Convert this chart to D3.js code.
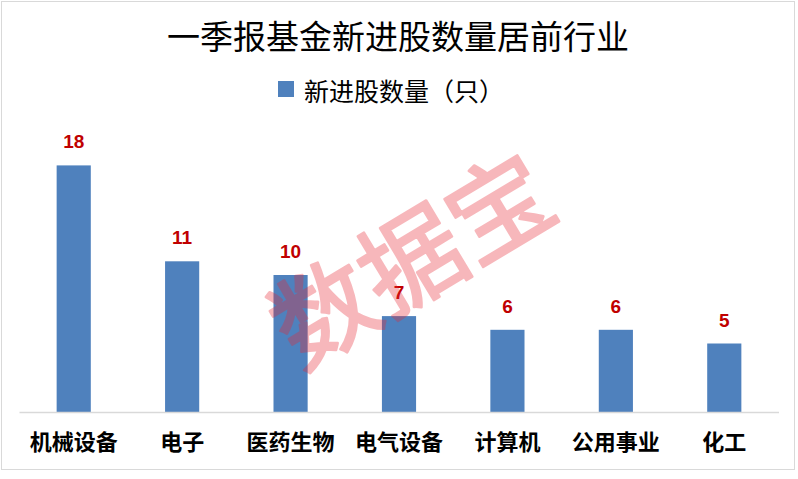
<!DOCTYPE html>
<html>
<head>
<meta charset="utf-8">
<script src="https://cdn.jsdelivr.net/npm/d3@7"></script>
<style>
  html, body { margin: 0; padding: 0; background: #fff; }
  svg { display: block; }
</style>
</head>
<body>
<script>
const title = "一季报基金新进股数量居前行业";
const seriesName = "新进股数量（只）";
const categories = ["机械设备", "电子", "医药生物", "电气设备", "计算机", "公用事业", "化工"];
const values = [18, 11, 10, 7, 6, 6, 5];
const yDomain = [0, 20];
const watermark = "数据宝";

const W = 798, H = 479;
const svg = d3.select("body").append("svg").attr("width", W).attr("height", H);

svg.append("rect").attr("x", 0).attr("y", 0).attr("width", W).attr("height", H).attr("fill", "#fff");
svg.append("rect").attr("x", 1.5).attr("y", 1.5).attr("width", 793).attr("height", 468)
  .attr("fill", "none").attr("stroke", "#D9D9D9").attr("stroke-width", 1);

const cjk = "'Noto Sans CJK SC', 'Noto Sans CJK JP', sans-serif";

svg.append("text").attr("x", 398).attr("y", 35).attr("text-anchor", "middle")
  .attr("dominant-baseline", "central")
  .style("font-family", cjk).style("font-size", "33px").attr("fill", "#000").text(title);

// legend
const lg = svg.append("g");
lg.append("rect").attr("x", 278).attr("y", 81).attr("width", 16).attr("height", 16).attr("fill", "#4F81BD");
lg.append("text").attr("x", 304).attr("y", 90).attr("dominant-baseline", "central")
  .style("font-family", cjk).style("font-size", "25px").attr("fill", "#000").text(seriesName);

const x = d3.scaleBand().domain(categories).range([19.5, 778.5]).paddingInner(0.685).paddingOuter(0.3425);
const y = d3.scaleLinear().domain(yDomain).range([412, 138]);

const plot = svg.append("g");
plot.selectAll("rect.bar").data(values).join("rect").attr("class", "bar")
  .attr("x", (d, i) => x(categories[i]))
  .attr("width", x.bandwidth())
  .attr("y", d => y(d))
  .attr("height", d => y(0) - y(d))
  .attr("fill", "#4F81BD");

// axis
const axis = d3.axisBottom(x).tickSize(0).tickPadding(0);
const ag = svg.append("g").attr("transform", `translate(0,${y(0)})`).call(axis);
ag.select(".domain").attr("d", "M19.5,0.5H779").attr("stroke", "#D9D9D9").attr("stroke-width", 1.3);
ag.selectAll(".tick text").attr("y", 30).attr("dy", "0.35em")
  .style("font-family", cjk).style("font-size", "22px").style("font-weight", "bold").attr("fill", "#000");

// value labels
plot.selectAll("text.val").data(values).join("text").attr("class", "val")
  .attr("x", (d, i) => x(categories[i]) + x.bandwidth() / 2)
  .attr("y", d => y(d) - 17)
  .attr("text-anchor", "middle")
  .style("font-family", "'Liberation Sans', Arial, sans-serif").style("font-size", "19px").style("font-weight", "bold")
  .attr("fill", "#C00000").text(d => d);

// watermark
svg.append("g").attr("opacity", 0.33)
  .append("text").attr("transform", "translate(408,254) rotate(-31)")
  .attr("text-anchor", "middle").attr("dominant-baseline", "central")
  .style("font-family", cjk).style("font-size", "102px").style("font-weight", "400")
  .attr("fill", "rgb(232,40,52)").attr("stroke", "rgb(232,40,52)").attr("stroke-width", 2.5)
  .attr("stroke-linejoin", "round").text(watermark);
</script>
</body>
</html>
